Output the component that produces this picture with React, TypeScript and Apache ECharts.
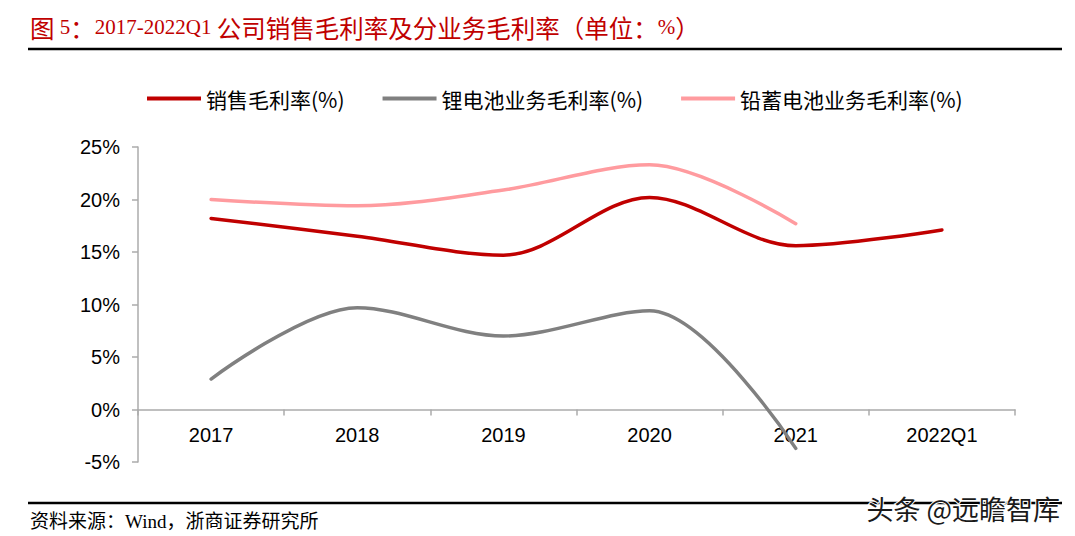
import React, { useEffect, useRef } from "react";
import * as echarts from "echarts";

const categories = ["2017", "2018", "2019", "2020", "2021", "2022Q1"];
const salesMargin = [18.2, 16.5, 14.7, 20.2, 15.6, 17.1];
const lithiumMargin = [2.9, 9.7, 7.0, 9.4, -3.7, null];
const leadMargin = [20.0, 19.4, 20.9, 23.3, 17.7, null];
const seriesNames = ["销售毛利率(%)", "锂电池业务毛利率(%)", "铅蓄电池业务毛利率(%)"];
const yTicks = { min: -5, max: 25, interval: 5 };

const sourceText = "资料来源：Wind，浙商证券研究所";
const watermarkText = "头条 @远瞻智库";

const SANS = '"Liberation Sans", Arial, "Noto Sans CJK SC", sans-serif';
const CJK = '"Noto Sans CJK SC", "Liberation Sans", sans-serif';
const SERIF = '"Liberation Serif", "Times New Roman", "Noto Sans CJK SC", serif';

export default function App() {
  const ref = useRef<HTMLDivElement>(null);
  useEffect(() => {
    if (!ref.current) return;
    const chart = echarts.init(ref.current, null, { renderer: "svg" });
    const axisColor = "#ABABAB";
    const colors = ["#C00000", "#808080", "#FF9B9F"];
    const datasets = [salesMargin, lithiumMargin, leadMargin];
    const red = "#C00000";
    chart.setOption({
      animation: false,
      backgroundColor: "#ffffff",
      grid: { left: 138, right: 60, top: 147, bottom: 74, containLabel: false },
      legend: {
        top: 83,
        left: 142,
        itemWidth: 54,
        itemHeight: 4,
        itemGap: 38,
        icon: "rect",
        textStyle: { fontFamily: CJK, fontSize: 21, color: "#000" },
        data: seriesNames,
      },
      xAxis: {
        type: "category",
        data: categories,
        boundaryGap: true,
        axisLine: { onZero: true, lineStyle: { color: axisColor, width: 1.5 } },
        axisTick: { show: true, length: 6, inside: false, lineStyle: { color: axisColor, width: 1.5 } },
        axisLabel: { fontFamily: SANS, fontSize: 20, color: "#000", margin: -37 },
        splitLine: { show: false },
      },
      yAxis: {
        type: "value",
        min: yTicks.min,
        max: yTicks.max,
        interval: yTicks.interval,
        axisLine: { show: true, lineStyle: { color: axisColor, width: 1.5 } },
        axisTick: { show: true, length: 6, lineStyle: { color: axisColor, width: 1.5 } },
        axisLabel: { fontFamily: SANS, fontSize: 20, color: "#000", margin: 18, formatter: "{value}%" },
        splitLine: { show: false },
      },
      series: seriesNames.map((name, i) => ({
        name,
        type: "line",
        data: datasets[i],
        smooth: 0.33,
        symbol: "none",
        connectNulls: false,
        color: colors[i],
        lineStyle: { color: colors[i], width: 3.5, cap: "round" },
        z: 3 - i,
      })),
      graphic: [
        {
          type: "text",
          x: 30,
          y: 27,
          style: {
            text: "{c|图} {a|5}{c|：}{a|2017-2022Q1} {c|公司销售毛利率及分业务毛利率（单位：}{a|%}{c|）}",
            rich: {
              a: { fontFamily: SERIF, fontSize: 21, fill: red },
              c: { fontFamily: CJK, fontSize: 24.5, fill: red },
            },
            fontFamily: SERIF,
            fontSize: 21,
            fill: red,
            verticalAlign: "middle",
            textAlign: "left",
          },
        },
        {
          type: "line",
          shape: { x1: 28, y1: 49, x2: 1062, y2: 49 },
          style: { stroke: "#000", lineWidth: 2.5 },
        },
        {
          type: "line",
          shape: { x1: 28, y1: 503, x2: 1062, y2: 503 },
          style: { stroke: "#000", lineWidth: 2.5 },
        },
        {
          type: "text",
          x: 30,
          y: 521,
          style: {
            text: sourceText,
            fontFamily: SERIF,
            fontSize: 19,
            fill: "#000",
            verticalAlign: "middle",
            textAlign: "left",
          },
        },
        {
          type: "text",
          x: 1060,
          y: 508,
          z: 100,
          style: {
            text: watermarkText,
            fontFamily: CJK,
            fontSize: 27,
            fill: "#1a1a1a",
            stroke: "#ffffff",
            lineWidth: 2,
            verticalAlign: "middle",
            textAlign: "right",
          },
        },
      ],
    });
    return () => chart.dispose();
  }, []);
  return (
    <div
      ref={ref}
      style={{ position: "fixed", left: 0, top: 0, width: 1075, height: 536, background: "#fff" }}
    />
  );
}
